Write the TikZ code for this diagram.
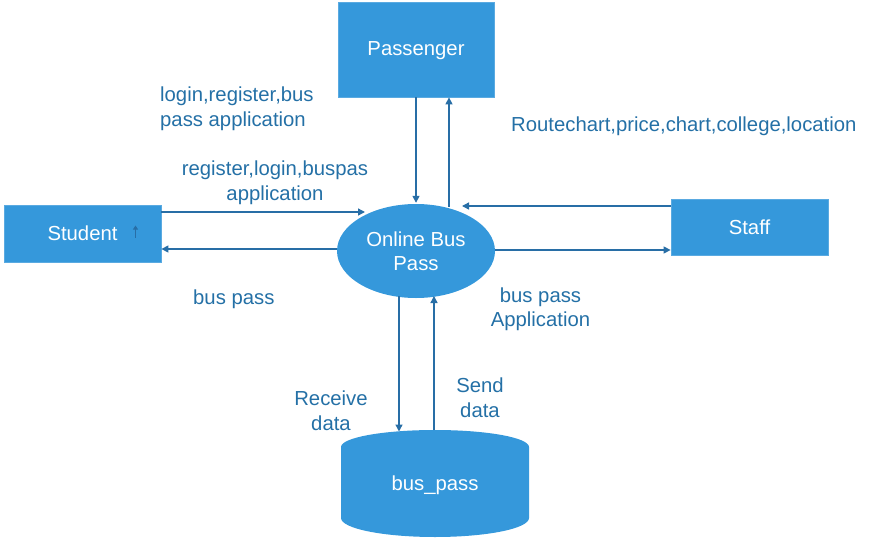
\documentclass[tikz,border=0pt]{standalone}
\usepackage{fontspec}
\setmainfont{Liberation Sans}
\usetikzlibrary{arrows.meta,shapes.geometric}
\definecolor{boxfill}{RGB}{53,152,219}
\definecolor{boxedge}{RGB}{90,170,225}
\definecolor{linec}{RGB}{40,110,166}
\definecolor{textc}{RGB}{36,112,166}
\tikzset{
  ent/.style={rectangle, fill=boxfill, draw=boxedge, line width=0.8pt, text=white, inner sep=0pt, font=\fontsize{20.3}{24}\selectfont},
  proc/.style={ellipse, fill=boxfill, draw=none, text=white, inner sep=0pt, align=center, font=\fontsize{20.3}{24}\selectfont, minimum width=158pt, minimum height=94pt},
  lbl/.style={text=textc, inner sep=0pt, font=\fontsize{20.3}{24.5}\selectfont},
  flow/.style={draw=linec, line width=1.4pt, -{Triangle[length=7pt,width=7pt]}},
}
\begin{document}
\begin{tikzpicture}[x=1pt,y=1pt]
\useasboundingbox (0,0) rectangle (876,-541);
% entities
\node[ent, minimum width=156pt, minimum height=95pt, text height=13pt, text depth=2pt] (pas) at (416,-49.5) {Passenger};
\node[ent, minimum width=157pt, minimum height=57pt] (stu) at (82.5,-233.5) {Student};
\node[ent, minimum width=157pt, minimum height=56pt] (sta) at (749.5,-227) {Staff};
\node[proc] (obp) at (416,-251) {Online Bus\\Pass};
% data store (cylinder)
\fill[boxfill] (341,-447) arc[start angle=180, end angle=0, x radius=94, y radius=17]
  -- (529,-518) arc[start angle=0, end angle=-180, x radius=94, y radius=19] -- cycle;
\node[text=white, inner sep=0pt, font=\fontsize{20.3}{24}\selectfont] (bp) at (435,-485) {bus\_pass};
% connectors
\draw[flow] (pas.south) -- ([yshift=1pt]obp.north);
\draw[flow] ([xshift=33pt,yshift=44pt]obp.center) -- ([xshift=33pt]pas.south);
\draw[flow] ([yshift=21.5pt]stu.east) -- ([xshift=-51pt,yshift=39pt]obp.center);
\draw[flow] ([yshift=2pt]obp.west) -- ([yshift=-15.5pt]stu.east);
\draw[flow] ([yshift=21pt]sta.west) -- ([xshift=46pt,yshift=45pt]obp.center);
\draw[flow] ([yshift=1pt]obp.east) -- ([yshift=-23pt]sta.west);
\draw[flow] ([xshift=-17pt,yshift=-45pt]obp.center) -- ([xshift=-36pt,yshift=53.5pt]bp.center);
\draw[flow] ([xshift=-1pt,yshift=55pt]bp.center) -- ([xshift=18pt,yshift=-45pt]obp.center);
% small stray arrow inside Student
\draw[draw=linec, line width=1pt, -{Triangle[length=4pt,width=5pt]}] ([xshift=53pt,yshift=-4pt]stu.center) -- ([xshift=53pt,yshift=8pt]stu.center);
% labels
\node[lbl, anchor=west, align=left] (l1) at (160,-108.5) {login,register,bus\\pass application};
\node[lbl, anchor=west] (l2) at (511,-126) {Routechart,price,chart,college,location};
\node[lbl, align=center] (l3) at (275,-182.5) {register,login,buspas\\application};
\node[lbl, anchor=west] (l4) at (193,-299) {bus pass};
\node[lbl, align=center] (l5) at (540.5,-309) {bus pass\\Application};
\node[lbl, align=center] (l6) at (331,-410.5) {Receive\\data};
\node[lbl, align=center] (l7) at (480,-397.5) {Send\\data};
\end{tikzpicture}
\end{document}
